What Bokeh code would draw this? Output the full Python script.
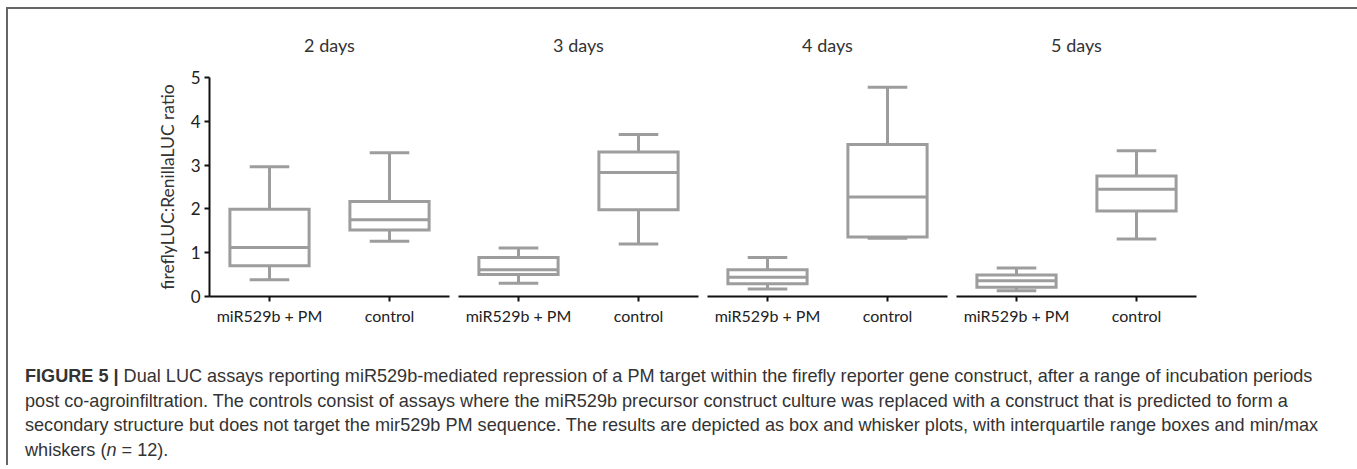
from bokeh.plotting import figure
from bokeh.models import FactorRange, Range1d, FixedTicker, Div, ColumnDataSource
from bokeh.layouts import row, column
from bokeh.transform import dodge
from bokeh.embed import file_html
from bokeh.resources import INLINE

# ---------------- data ----------------
days = ["2 days", "3 days", "4 days", "5 days"]
groups = ["miR529b + PM", "control"]

mir_min = [0.38, 0.30, 0.17, 0.13]
mir_q1 = [0.70, 0.50, 0.29, 0.21]
mir_med = [1.12, 0.61, 0.44, 0.36]
mir_q3 = [1.99, 0.89, 0.61, 0.49]
mir_max = [2.96, 1.11, 0.89, 0.65]

ctl_min = [1.26, 1.20, 1.33, 1.31]
ctl_q1 = [1.52, 1.98, 1.36, 1.95]
ctl_med = [1.75, 2.83, 2.27, 2.45]
ctl_q3 = [2.17, 3.30, 3.47, 2.75]
ctl_max = [3.28, 3.70, 4.78, 3.33]

y_ticks = [0, 1, 2, 3, 4, 5]
y_label = "fireflyLUC:RenillaLUC ratio"

caption_lines = [
    "<b>FIGURE 5 |</b> Dual LUC assays reporting miR529b-mediated repression of a PM target within the firefly reporter gene construct, after a range of incubation periods",
    "post co-agroinfiltration. The controls consist of assays where the miR529b precursor construct culture was replaced with a construct that is predicted to form a",
    "secondary structure but does not target the mir529b PM sequence. The results are depicted as box and whisker plots, with interquartile range boxes and min/max",
    "whiskers (<i>n</i> = 12).",
]

# ---------------- style ----------------
BOX = "#9d9d9d"
FONT = "Lato"
FRAME_W = 240
FRAME_H = 220
TOP = 67
BOTTOM = 39
H = TOP + FRAME_H + BOTTOM

y_range = Range1d(0, 5)

widths = [201 + FRAME_W + 4, 249, 249, 403]
lefts = [201, 5, 5, 5]
rights = [w - l - FRAME_W for w, l in zip(widths, lefts)]

figs = []
for i, d in enumerate(days):
    p = figure(
        x_range=FactorRange(*groups, range_padding=0),
        y_range=y_range,
        width=widths[i], height=H,
        min_border_left=lefts[i], min_border_right=rights[i],
        min_border_top=TOP, min_border_bottom=BOTTOM,
        toolbar_location=None, output_backend="svg",
        y_axis_location="left" if i == 0 else None,
        title=d,
    )
    p.outline_line_color = None
    p.xgrid.visible = False
    p.ygrid.visible = False
    p.background_fill_color = "white"
    p.border_fill_color = "white"
    p.title.align = "center"
    p.title.text_font = FONT
    p.title.text_font_size = "18px"
    p.title.text_font_style = "normal"
    p.title.text_color = "#333333"
    p.title.standoff = 44

    src = ColumnDataSource(dict(
        cat=groups,
        lo=[mir_min[i], ctl_min[i]],
        q1=[mir_q1[i], ctl_q1[i]],
        med=[mir_med[i], ctl_med[i]],
        q3=[mir_q3[i], ctl_q3[i]],
        hi=[mir_max[i], ctl_max[i]],
    ))
    lw = 3
    p.segment(x0="cat", y0="q3", x1="cat", y1="hi", source=src,
              line_color=BOX, line_width=lw)
    p.segment(x0="cat", y0="q1", x1="cat", y1="lo", source=src,
              line_color=BOX, line_width=lw)
    for col in ("hi", "lo"):
        p.segment(x0=dodge("cat", -0.165, range=p.x_range), y0=col,
                  x1=dodge("cat", 0.165, range=p.x_range), y1=col,
                  source=src, line_color=BOX, line_width=lw)
    p.vbar(x="cat", bottom="q1", top="q3", width=0.66, source=src,
           fill_color="white", line_color=BOX, line_width=lw,
           line_join="miter")
    p.segment(x0=dodge("cat", -0.33, range=p.x_range), y0="med",
              x1=dodge("cat", 0.33, range=p.x_range), y1="med",
              source=src, line_color=BOX, line_width=lw)

    xa = p.xaxis[0]
    xa.axis_line_width = 2
    xa.axis_line_color = "#111111"
    xa.major_tick_line_width = 2
    xa.major_tick_line_color = "#111111"
    xa.major_tick_out = 5
    xa.major_tick_in = 0
    xa.minor_tick_line_color = None
    xa.major_label_standoff = 4
    xa.major_label_text_font = FONT
    xa.major_label_text_font_size = "16px"
    xa.major_label_text_color = "#222222"

    if i == 0:
        ya = p.yaxis[0]
        ya.ticker = FixedTicker(ticks=y_ticks)
        ya.axis_line_width = 2
        ya.axis_line_color = "#111111"
        ya.major_tick_line_width = 2
        ya.major_tick_line_color = "#111111"
        ya.major_tick_out = 5
        ya.major_tick_in = 0
        ya.minor_tick_line_color = None
        ya.major_label_standoff = 4
        ya.major_label_text_font = FONT
        ya.major_label_text_font_size = "17px"
        ya.major_label_text_color = "#222222"
        ya.axis_label = y_label
        ya.axis_label_text_font = FONT
        ya.axis_label_text_font_size = "17.5px"
        ya.axis_label_text_font_style = "normal"
        ya.axis_label_text_color = "#333333"
        ya.axis_label_standoff = 10
    figs.append(p)

cap_html = ('<div style="padding-top:24px;padding-left:12px;line-height:24.5px;'
            'font-family:\'Liberation Sans\',Arial,sans-serif;font-size:18.1px;color:#333;'
            'white-space:nowrap;">' + "<br>".join(caption_lines) + "</div>")
cap = Div(text=cap_html, width=1346, height=120)

top_row = row(*figs)
layout = column(top_row, cap,
                styles={"box-sizing": "content-box",
                        "margin-left": "6px", "margin-top": "7px",
                        "border-top": "2px solid #666666",
                        "border-left": "2px solid #666666",
                        "border-right": "2px solid #666666"})

open("out.html", "w").write(file_html(layout, INLINE))
